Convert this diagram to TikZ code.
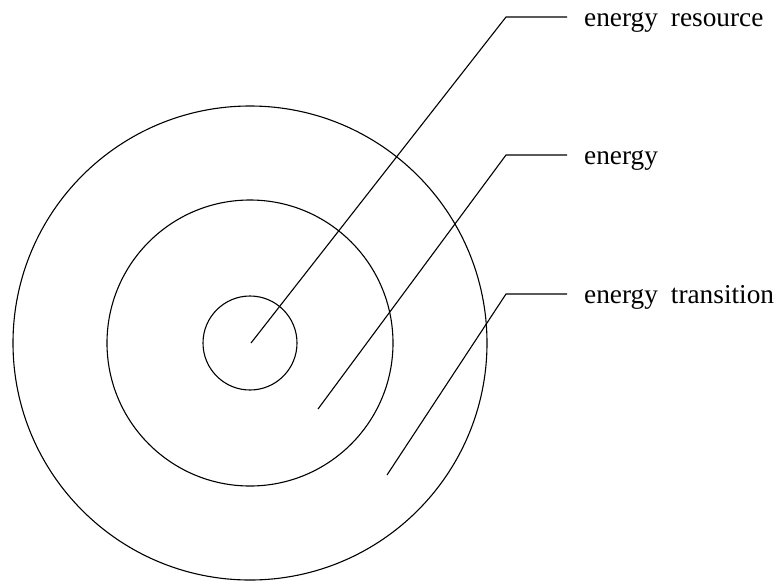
\documentclass[tikz,border=0pt]{standalone}
\usepackage{fontspec}
\setmainfont{Liberation Serif}[WordSpace=1.9]
\usetikzlibrary{positioning, calc}
\tikzset{
  ring/.style={draw=black, circle, line width=1.1pt, inner sep=0pt},
  lead/.style={line width=1.1pt, draw=black},
  lbl/.style={font=\fontsize{27.3}{31}\selectfont, inner xsep=17pt, inner ysep=0pt,
              anchor=base west},
}

\begin{document}
\begin{tikzpicture}[x=1pt, y=-1pt]
  \useasboundingbox (0,0) rectangle (779,582);
  % three rings round one centre
  \node[ring, minimum size=474pt] (outer) at (250,343) {};
  \node[ring, minimum size=286pt] (mid) at (250,343) {};
  \node[ring, minimum size=94pt] (core) at (250,343) {};
  % leaders and their labels
  \foreach \nm/\tx/\ty/\ky/\txt in {res/251/343/17/energy resource, en/318/409/155/energy, tr/387/475/294/energy transition}{
    \coordinate (\nm tip) at (\tx,\ty);
    \coordinate (\nm knee) at (506,\ky);
    \node[lbl] (\nm) at (567,\ky+9) {\txt};
    \draw[lead] (\nm tip) -- (\nm knee) -- (\nm knee -| \nm.west);
  }
\end{tikzpicture}
\end{document}
